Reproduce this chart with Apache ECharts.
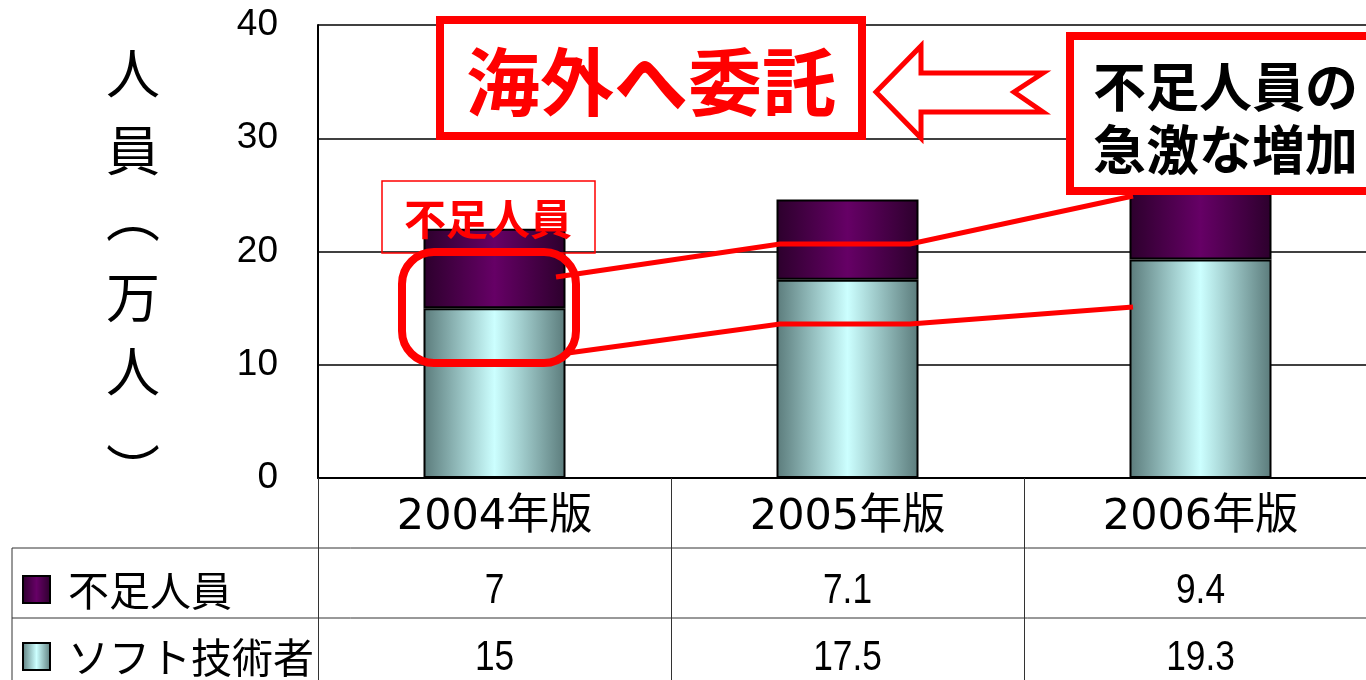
<!DOCTYPE html>
<html><head><meta charset="utf-8">
<script src="https://cdn.jsdelivr.net/npm/echarts@6/dist/echarts.min.js"></script>
<style>html,body{margin:0;padding:0;background:#fff;overflow:hidden}#c{width:1366px;height:680px}</style>
</head><body><div id="c"></div>
<script>
// ---- data ----
const categories = ['2004年版', '2005年版', '2006年版'];
const shortageName = '不足人員';
const engineersName = 'ソフト技術者';
const shortage = [7, 7.1, 9.4];
const engineers = [15, 17.5, 19.3];
const yMin = 0, yMax = 40, yInterval = 10;
const yAxisNameChars = ['人', '員', '︵', '万', '人', '︶'];
const calloutMain = '海外へ委託';
const calloutRight = ['不足人員の', '急激な増加'];
const calloutSmall = '不足人員';

// ---- styles ----
const CJK = '"Noto Sans CJK JP", "Noto Sans", sans-serif';
const NUM = '"Liberation Sans", Arial, sans-serif';
const CAT = '"DejaVu Sans", "Noto Sans CJK JP", sans-serif';
function cyanGrad() {
  return new echarts.graphic.LinearGradient(0, 0, 1, 0, [
    {offset: 0, color: '#5b7b7b'}, {offset: 0.5, color: '#ccffff'}, {offset: 1, color: '#5b7b7b'}]);
}
function purpleGrad() {
  return new echarts.graphic.LinearGradient(0, 0, 1, 0, [
    {offset: 0, color: '#2c002c'}, {offset: 0.5, color: '#660066'}, {offset: 1, color: '#2c002c'}]);
}

const chart = echarts.init(document.getElementById('c'), null, {renderer: 'canvas'});
chart.setOption({
  animation: false,
  backgroundColor: '#fff',
  grid: {left: 318, top: 25, right: -11, bottom: 202, containLabel: false, outerBoundsMode: 'none'},
  xAxis: {
    type: 'category', data: categories, boundaryGap: true,
    axisLine: {show: true, lineStyle: {color: '#000', width: 2}},
    axisTick: {show: true, interval: 0, length: 202, lineStyle: {color: '#333', width: 1}},
    axisLabel: {interval: 0, fontSize: 43, color: '#000', fontFamily: CAT, margin: 18},
    splitLine: {show: false}
  },
  yAxis: {
    type: 'value', min: yMin, max: yMax, interval: yInterval,
    axisLine: {show: true, lineStyle: {color: '#000', width: 2}},
    axisTick: {show: false},
    axisLabel: {fontSize: 37, color: '#000', fontFamily: NUM, margin: 40},
    splitLine: {show: true, lineStyle: {color: '#000', width: 1.5}}
  },
  series: [
    {name: engineersName, type: 'bar', stack: 's', data: engineers, barWidth: 142,
     itemStyle: {color: cyanGrad(), borderColor: '#000', borderWidth: 2}},
    {name: shortageName, type: 'bar', stack: 's', data: shortage, barWidth: 142,
     itemStyle: {color: purpleGrad(), borderColor: '#000', borderWidth: 2}}
  ]
});

const xs = categories.map((c, i) => chart.convertToPixel({xAxisIndex: 0}, i));
const g = [];
// y axis name (vertical)
const nameYs = [73, 150, 216, 297, 371, 470];
yAxisNameChars.forEach((ch, i) => g.push({type: 'text', x: 133, y: nameYs[i], z: 50,
  style: {text: ch, fontSize: 54, fontFamily: CJK, fill: '#000', align: 'center', verticalAlign: 'middle'}}));
// table lines
g.push({type: 'line', z: 50, shape: {x1: 12, y1: 548, x2: 1366, y2: 548}, style: {stroke: '#333', lineWidth: 1}});
g.push({type: 'line', z: 50, shape: {x1: 12, y1: 618, x2: 1366, y2: 618}, style: {stroke: '#333', lineWidth: 1}});
g.push({type: 'line', z: 50, shape: {x1: 12, y1: 548, x2: 12, y2: 680}, style: {stroke: '#333', lineWidth: 1}});
// table rows
const rows = [
  {name: shortageName, vals: shortage, grad: purpleGrad(), y: 590},
  {name: engineersName, vals: engineers, grad: cyanGrad(), y: 657}
];
rows.forEach(r => {
  g.push({type: 'rect', z: 50, shape: {x: 23, y: r.y - 14, width: 27, height: 27},
    style: {fill: r.grad, stroke: '#000', lineWidth: 2}});
  g.push({type: 'text', z: 50, x: 68, y: r.y, style: {text: r.name, fontSize: 41, fontFamily: CJK,
    fill: '#000', align: 'left', verticalAlign: 'middle'}});
  r.vals.forEach((v, i) => g.push({type: 'text', z: 50, x: xs[i], y: r.y + 1, scaleX: 0.84,
    style: {text: String(v), fontSize: 42, fontFamily: NUM, fill: '#000', align: 'center', verticalAlign: 'middle'}}));
});
// callouts
const RED = '#ff0000';
g.push({type: 'rect', z: 100, shape: {x: 440, y: 20, width: 422, height: 116},
  style: {fill: '#fff', stroke: RED, lineWidth: 8}});
g.push({type: 'text', z: 101, x: 651, y: 82, style: {text: calloutMain, fontSize: 74, fontWeight: 'bold',
  fontFamily: CJK, fill: RED, align: 'center', verticalAlign: 'middle'}});
g.push({type: 'polygon', z: 100, shape: {points: [[876, 92], [921, 46], [921, 73], [1043, 73], [1014, 92],
  [1043, 112], [921, 112], [921, 138]]}, style: {fill: '#fff', stroke: RED, lineWidth: 5, lineJoin: 'miter'}});
g.push({type: 'rect', z: 100, shape: {x: 1070, y: 36, width: 400, height: 155},
  style: {fill: '#fff', stroke: RED, lineWidth: 8}});
g.push({type: 'text', z: 101, x: 1093, y: 87, style: {text: calloutRight[0], fontSize: 53, fontWeight: 'bold',
  fontFamily: CJK, fill: '#000', align: 'left', verticalAlign: 'middle'}});
g.push({type: 'text', z: 101, x: 1093, y: 150, style: {text: calloutRight[1], fontSize: 53, fontWeight: 'bold',
  fontFamily: CJK, fill: '#000', align: 'left', verticalAlign: 'middle'}});
g.push({type: 'rect', z: 100, shape: {x: 382, y: 181, width: 213, height: 72},
  style: {fill: null, stroke: RED, lineWidth: 1.5}});
g.push({type: 'text', z: 101, x: 488, y: 219, style: {text: calloutSmall, fontSize: 42, fontWeight: 'bold',
  fontFamily: CJK, fill: RED, align: 'center', verticalAlign: 'middle'}});
g.push({type: 'rect', z: 100, shape: {x: 402, y: 252, width: 174, height: 111, r: 32},
  style: {fill: null, stroke: RED, lineWidth: 8}});
g.push({type: 'polyline', z: 100, shape: {points: [[556, 277], [780, 244], [910, 244], [1133, 196]]},
  style: {stroke: RED, lineWidth: 5, fill: null}});
g.push({type: 'polyline', z: 100, shape: {points: [[568, 353], [780, 324], [910, 324], [1133, 307]]},
  style: {stroke: RED, lineWidth: 5, fill: null}});
chart.setOption({graphic: {elements: g}});
</script></body></html>
